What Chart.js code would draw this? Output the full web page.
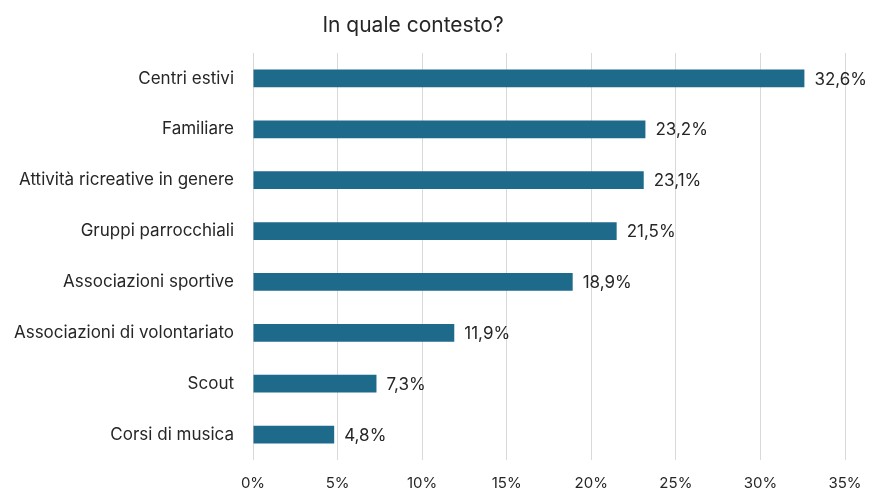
<!DOCTYPE html>
<html>
<head>
<meta charset="utf-8">
<script src="https://cdn.jsdelivr.net/npm/chart.js@4"></script>
<style>
  body { margin: 0; background: #fff; }
  #wrap { width: 870px; height: 490px; }
</style>
</head>
<body>
<div id="wrap"><canvas id="chart"></canvas></div>
<script>
const chartTitle = 'In quale contesto?';
const categories = [
  'Centri estivi',
  'Familiare',
  'Attività ricreative in genere',
  'Gruppi parrocchiali',
  'Associazioni sportive',
  'Associazioni di volontariato',
  'Scout',
  'Corsi di musica'
];
const percentages = [32.6, 23.2, 23.1, 21.5, 18.9, 11.9, 7.3, 4.8];

const fontFamily = 'Inter, "Noto Sans", sans-serif';
const textColor = '#262626';

// value labels at the end of each bar, comma decimals
const barLabels = {
  id: 'barLabels',
  afterDatasetsDraw(chart) {
    const { ctx } = chart;
    const meta = chart.getDatasetMeta(0);
    ctx.save();
    ctx.font = '17px ' + fontFamily;
    ctx.fillStyle = textColor;
    ctx.textBaseline = 'middle';
    ctx.textAlign = 'left';
    meta.data.forEach((bar, i) => {
      const txt = percentages[i].toFixed(1).replace('.', ',') + '%';
      ctx.fillText(txt, bar.x + 10, bar.y + 1);
    });
    ctx.restore();
  }
};

const titleText = {
  id: 'titleText',
  afterDraw(chart) {
    const { ctx } = chart;
    ctx.save();
    ctx.font = '21px ' + fontFamily;
    ctx.fillStyle = textColor;
    ctx.textAlign = 'center';
    ctx.textBaseline = 'middle';
    ctx.fillText(chartTitle, 413, 26);
    ctx.restore();
  }
};

new Chart(document.getElementById('chart'), {
  type: 'bar',
  data: {
    labels: categories,
    datasets: [{
      data: percentages,
      backgroundColor: '#1E6A8A',
      barPercentage: 0.7,
      categoryPercentage: 0.5
    }]
  },
  plugins: [barLabels, titleText],
  options: {
    indexAxis: 'y',
    responsive: true,
    maintainAspectRatio: false,
    animation: false,
    layout: { padding: { top: 53, right: 25, left: 0, bottom: 0 } },
    plugins: {
      legend: { display: false },
      tooltip: { enabled: false }
    },
    scales: {
      x: {
        min: 0,
        max: 35,
        ticks: {
          stepSize: 5,
          padding: 14,
          color: textColor,
          font: { family: fontFamily, size: 15 },
          callback: v => v + '%'
        },
        grid: { color: '#d9d9d9', drawTicks: false },
        border: { display: false },
        afterFit: scale => {
          scale.height = 30;
          scale.paddingRight = 0;
          scale.paddingLeft = 0;
        }
      },
      y: {
        ticks: {
          padding: 19,
          color: textColor,
          font: { family: fontFamily, size: 17 }
        },
        grid: { display: false, drawTicks: false },
        border: { display: false },
        afterFit: scale => { scale.width = 253; }
      }
    }
  }
});
</script>
</body>
</html>
